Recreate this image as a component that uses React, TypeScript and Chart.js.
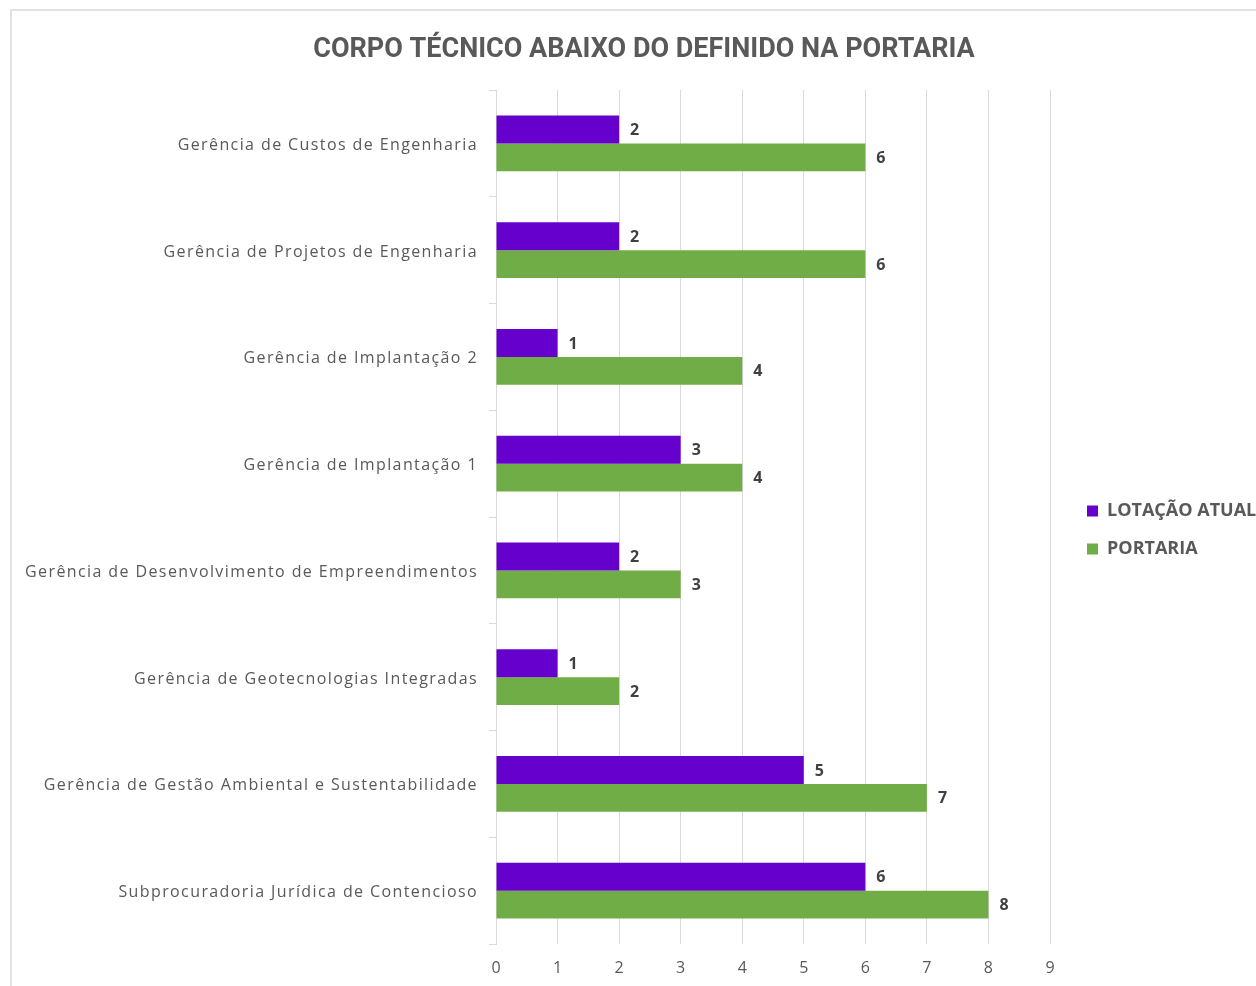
import React, { useEffect, useRef } from "react";
import { Chart, registerables } from "chart.js";

Chart.register(...registerables);

const TITLE = "CORPO TÉCNICO ABAIXO DO DEFINIDO NA PORTARIA";

const categories = [
  "Gerência de Custos de Engenharia",
  "Gerência de Projetos de Engenharia",
  "Gerência de Implantação 2",
  "Gerência de Implantação 1",
  "Gerência de Desenvolvimento de Empreendimentos",
  "Gerência de Geotecnologias Integradas",
  "Gerência de Gestão Ambiental e Sustentabilidade",
  "Subprocuradoria Jurídica de Contencioso",
];

const seriesNames = ["LOTAÇÃO ATUAL", "PORTARIA"];
const lotacaoAtual = [2, 2, 1, 3, 2, 1, 5, 6];
const portaria = [6, 6, 4, 4, 3, 2, 7, 8];

const xMin = 0;
const xMax = 9;
const xStep = 1;

const PURPLE = "#6600cc";
const GREEN = "#70ad47";
const TEXT = "#595959";
const GRID = "#d9d9d9";

const valueLabels = {
  id: "valueLabels",
  afterDatasetsDraw(chart: any) {
    const ctx = chart.ctx;
    ctx.save();
    ctx.font = 'bold 16px "Open Sans"';
    ctx.fillStyle = "#404040";
    ctx.textAlign = "left";
    ctx.textBaseline = "middle";
    chart.data.datasets.forEach((ds: any, i: number) => {
      const meta = chart.getDatasetMeta(i);
      meta.data.forEach((el: any, j: number) => {
        ctx.fillText(String(ds.data[j]), el.x + 11, el.y + 1);
      });
    });
    ctx.restore();
  },
};

const layoutTweaks = {
  id: "layoutTweaks",
  beforeLayout(chart: any) {
    const lg = chart.legend;
    if (lg && !lg._fitPatched) {
      const of = lg.fit.bind(lg);
      lg.fit = () => {
        of();
        lg.width = 206;
      };
      lg._fitPatched = true;
    }
  },
  afterLayout(chart: any) {
    const lg = chart.legend;
    if (lg) {
      lg.left = 1067;
      lg.right = 1067 + 206;
      lg.top = 482;
      lg.bottom = 482 + 200;
    }
    const ys = chart.scales.y;
    if (ys) {
      // let long category labels extend into the left padding
      ys.left = 0;
    }
  },
  beforeDraw(chart: any) {
    const ys = chart.scales.y;
    if (ys && !ys._lsPatched) {
      const orig = ys.drawLabels.bind(ys);
      ys.drawLabels = (area: any) => {
        const ctx = chart.ctx as any;
        ctx.save();
        ctx.letterSpacing = "1.4px";
        orig(area);
        ctx.restore();
      };
      ys._lsPatched = true;
    }
  },
};

export default function App() {
  const ref = useRef<HTMLCanvasElement | null>(null);

  useEffect(() => {
    if (!ref.current) return;
    Chart.defaults.font.family = '"Open Sans", sans-serif';
    const chart = new Chart(ref.current, {
      type: "bar",
      data: {
        labels: categories,
        datasets: [
          {
            label: seriesNames[0],
            data: lotacaoAtual,
            backgroundColor: PURPLE,
            borderWidth: 0,
            barPercentage: 1,
            categoryPercentage: 0.52,
          },
          {
            label: seriesNames[1],
            data: portaria,
            backgroundColor: GREEN,
            borderWidth: 0,
            barPercentage: 1,
            categoryPercentage: 0.52,
          },
        ],
      },
      options: {
        indexAxis: "y",
        responsive: false,
        animation: false,
        layout: { padding: { left: 32, right: 0, top: 0, bottom: 0 } },
        plugins: {
          title: {
            display: true,
            text: TITLE,
            color: TEXT,
            font: { family: "Roboto", size: 27, weight: "bold" },
            padding: { top: 34, bottom: 23.6 },
          },
          legend: {
            position: "right",
            align: "start",
            labels: {
              boxWidth: 11,
              boxHeight: 11,
              padding: 20,
              color: TEXT,
              font: { family: '"Open Sans"', size: 18, weight: "bold" },
            },
          },
          tooltip: { enabled: false },
        },
        scales: {
          x: {
            min: xMin,
            max: xMax,
            ticks: {
              stepSize: xStep,
              color: TEXT,
              font: { size: 16 },
              padding: 15,
            },
            grid: { color: GRID, drawTicks: false },
            border: { display: false },
            afterFit: (s: any) => {
              s.height = 42;
            },
          },
          y: {
            ticks: {
              color: TEXT,
              font: { size: 16 },
              padding: 11,
              labelOffset: 2,
            },
            grid: {
              drawOnChartArea: false,
              color: GRID,
              tickLength: 7,
              offset: true,
            },
            border: { color: GRID },
            afterFit: (s: any) => {
              s.width = 464;
            },
          },
        },
      } as any,
      plugins: [valueLabels, layoutTweaks],
    });
    return () => chart.destroy();
  }, []);

  return (
    <div
      style={{
        position: "fixed",
        left: 0,
        top: 0,
        width: 1256,
        height: 986,
        overflow: "hidden",
        background: "#ffffff",
      }}
    >
      <div
        style={{
          position: "absolute",
          left: 10,
          top: 9,
          width: 1400,
          height: 1200,
          border: "2px solid #e2e2e2",
        }}
      />
      <canvas
        ref={ref}
        width={1256}
        height={986}
        style={{ position: "absolute", left: 0, top: 0, width: 1256, height: 986 }}
      />
    </div>
  );
}
